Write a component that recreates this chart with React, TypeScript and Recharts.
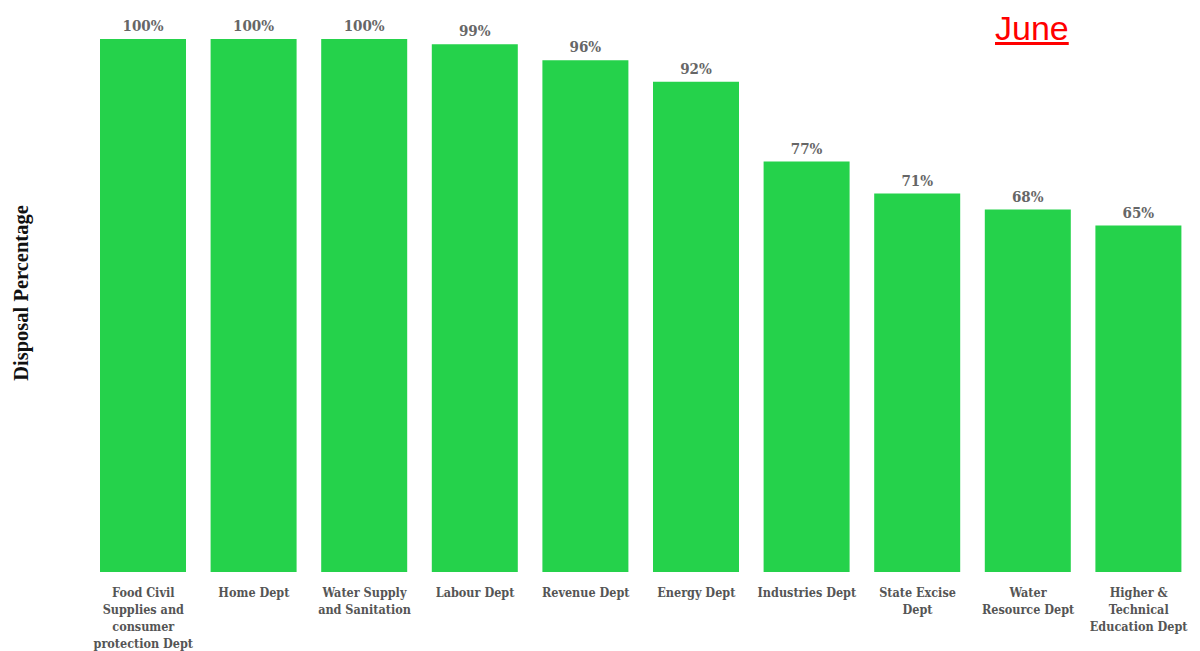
import { BarChart, Bar, XAxis, YAxis, LabelList } from 'recharts'

const departments = [
  'Food Civil|Supplies and|consumer|protection Dept',
  'Home Dept',
  'Water Supply|and Sanitation',
  'Labour Dept',
  'Revenue Dept',
  'Energy Dept',
  'Industries Dept',
  'State Excise|Dept',
  'Water|Resource Dept',
  'Higher &|Technical|Education Dept',
]

const disposal = [100, 100, 100, 99, 96, 92, 77, 71, 68, 65]

const BAR_GREEN = '#25D24B'
const SERIF = '"DejaVu Serif Condensed", "DejaVu Serif", serif'

const data = departments.map((name, i) => ({ name, value: disposal[i] }))

function DeptTick({ x, y, payload }: any) {
  const lines = String(payload.value).split('|')
  return (
    <text
      x={x}
      y={y + 25}
      textAnchor="middle"
      fill="#555"
      fontFamily={SERIF}
      fontStretch="condensed"
      fontWeight="bold"
      fontSize={12.5}
    >
      {lines.map((l, i) => (
        <tspan key={i} x={x} dy={i === 0 ? 0 : 17}>
          {l}
        </tspan>
      ))}
    </text>
  )
}

export default function App() {
  return (
    <div style={{ position: 'absolute', left: 0, top: 0, width: 1200, height: 651, background: '#fff' }}>
      <BarChart
        width={1200}
        height={651}
        data={data}
        margin={{ top: 39, right: 6, bottom: 0, left: 0 }}
        barCategoryGap={24}
      >
        <XAxis
          dataKey="name"
          axisLine={false}
          tickLine={false}
          tickSize={0}
          tickMargin={0}
          height={79}
          interval={0}
          tick={<DeptTick />}
        />
        <YAxis
          domain={[0, 100]}
          width={88}
          tick={false}
          axisLine={false}
          tickLine={false}
          label={{
            content: () => (
              <text
                x={21}
                y={293}
                transform="rotate(-90 21 293)"
                textAnchor="middle"
                dominantBaseline="central"
                fontFamily='"Liberation Serif", serif'
                fontWeight="bold"
                fontSize={20.5}
                fill="#111"
              >
                Disposal Percentage
              </text>
            ),
          }}
        />
        <Bar dataKey="value" fill={BAR_GREEN} barSize={86} isAnimationActive={false}>
          <LabelList
            dataKey="value"
            position="top"
            offset={8}
            formatter={(v: any) => `${v}%`}
            fill="#666"
            fontFamily={SERIF}
            fontWeight="bold"
            fontSize={15}
          />
        </Bar>
      </BarChart>
      <div
        style={{
          position: 'absolute',
          left: 995,
          top: 11,
          fontFamily: '"Liberation Sans", Arial, sans-serif',
          fontSize: 34,
          lineHeight: '34px',
          color: '#ff0000',
          textDecoration: 'underline',
        }}
      >
        June
      </div>
    </div>
  )
}
